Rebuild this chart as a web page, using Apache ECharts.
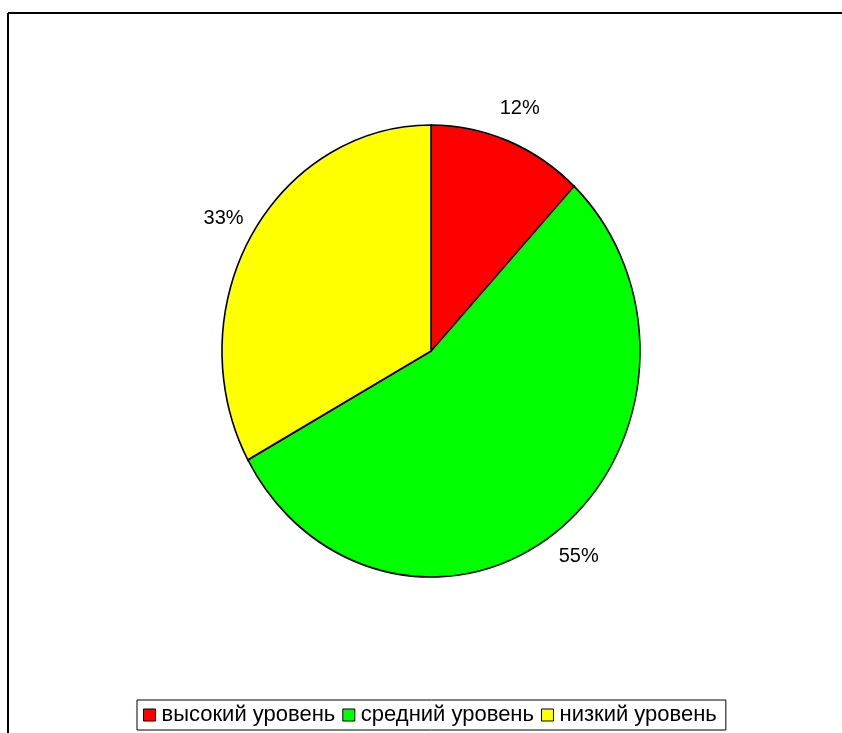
<!DOCTYPE html>
<html>
<head>
<meta charset="utf-8">
<script src="https://cdn.jsdelivr.net/npm/echarts@6/dist/echarts.min.js"></script>
<style>
html,body{margin:0;padding:0;background:#fff;}
#chart{width:842px;height:733px;}
</style>
</head>
<body>
<div id="chart"></div>
<script>
const categories = ['высокий уровень', 'средний уровень', 'низкий уровень'];
const values = [12, 55, 33];
const colors = ['#FF0000', '#00FF00', '#FFFF00'];

const total = values.reduce((a, b) => a + b, 0);
const CX = 431, CY = 351, RX = 209, SY = 226 / 209, LABEL_R = 241;

function startFraction(i) {
  let s = 0;
  for (let k = 0; k < i; k++) s += values[k];
  return s / total;
}

const series = categories.map((name, i) => ({
  name: name,
  type: 'custom',
  coordinateSystem: 'none',
  itemStyle: { color: colors[i] },
  data: [[values[i]]],
  renderItem: function (params, api) {
    const v = api.value(0);
    const f0 = startFraction(i);
    const f1 = f0 + v / total;
    const a0 = -Math.PI / 2 + f0 * 2 * Math.PI;
    const a1 = -Math.PI / 2 + f1 * 2 * Math.PI;
    const am = (f0 + f1) / 2 * 2 * Math.PI;
    const lx = CX + LABEL_R * Math.sin(am);
    const ly = CY - LABEL_R * Math.cos(am) * SY;
    return {
      type: 'group',
      children: [
        {
          type: 'sector',
          x: CX, y: CY, scaleY: SY,
          shape: { cx: 0, cy: 0, r: RX, r0: 0, startAngle: a0, endAngle: a1, clockwise: true },
          style: { fill: colors[i], stroke: '#000', lineWidth: 1.6 }
        },
        {
          type: 'text',
          x: lx, y: ly,
          style: {
            text: Math.round(v / total * 100) + '%',
            fill: '#000',
            font: '20px "Liberation Sans", Arial, sans-serif',
            align: 'center',
            verticalAlign: 'middle'
          }
        }
      ]
    };
  }
}));

const chart = echarts.init(document.getElementById('chart'), null, { renderer: 'canvas' });
chart.setOption({
  backgroundColor: '#fff',
  animation: false,
  graphic: [
    { type: 'line', shape: { x1: 8, y1: 13, x2: 842, y2: 13 }, style: { stroke: '#000', lineWidth: 2 } },
    { type: 'line', shape: { x1: 8, y1: 13, x2: 8, y2: 733 }, style: { stroke: '#000', lineWidth: 2 } }
  ],
  legend: {
    data: categories,
    left: 137,
    top: 700,
    orient: 'horizontal',
    icon: 'rect',
    itemWidth: 12,
    itemHeight: 12,
    itemGap: 7,
    padding: [4, 9, 4, 6],
    borderColor: '#000',
    borderWidth: 1,
    backgroundColor: '#fff',
    selectedMode: false,
    itemStyle: { borderColor: '#000', borderWidth: 1 },
    textStyle: { color: '#000', fontSize: 22, fontFamily: '"Liberation Sans", Arial, sans-serif', padding: [0, 0, 0, 1] }
  },
  series: series
});
</script>
</body>
</html>
